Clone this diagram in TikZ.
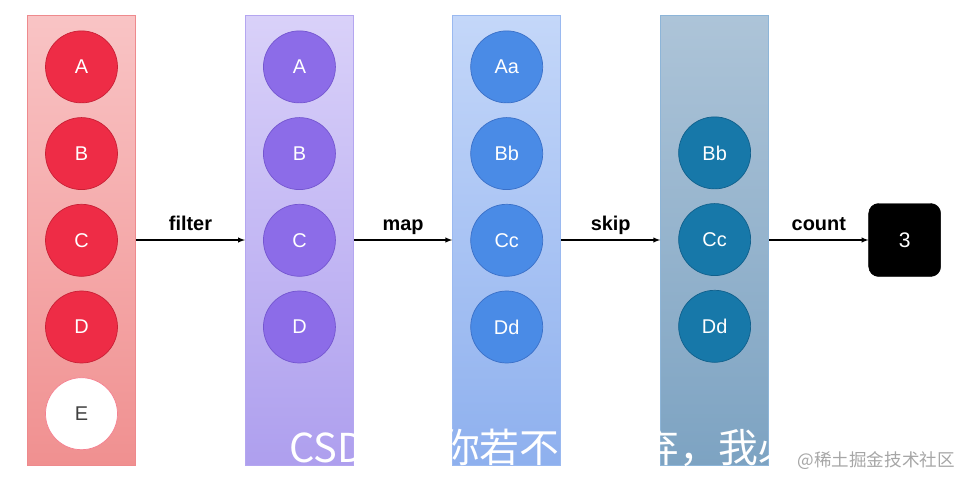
\documentclass[tikz,border=0pt]{standalone}
\usepackage{fontspec}
\setmainfont{Liberation Sans}
\newfontfamily\cjk{Noto Sans CJK SC}
\usepackage{xcolor}
\usepackage{tikz}
\usetikzlibrary{arrows.meta}
\usetikzlibrary{shapes,arrows,positioning}
\definecolor{redTop}{HTML}{F9C4C5}
\definecolor{redBot}{HTML}{F09090}
\definecolor{redLine}{HTML}{EE8A8D}
\definecolor{redElem}{HTML}{EE2C46}
\definecolor{redElemLine}{HTML}{C92035}
\definecolor{purpleTop}{HTML}{D9D1F9}
\definecolor{purpleBot}{HTML}{AE9FEE}
\definecolor{purpleLine}{HTML}{B4A6F0}
\definecolor{purpleElem}{HTML}{8C6CE8}
\definecolor{purpleElemLine}{HTML}{7456D0}
\definecolor{blueTop}{HTML}{C4D7F9}
\definecolor{blueBot}{HTML}{8EB0EE}
\definecolor{blueLine}{HTML}{9AB9F0}
\definecolor{blueElem}{HTML}{4A8BE6}
\definecolor{blueElemLine}{HTML}{3A70C8}
\definecolor{tealTop}{HTML}{ADC4D8}
\definecolor{tealBot}{HTML}{7DA3C2}
\definecolor{tealLine}{HTML}{8DB5D8}
\definecolor{tealElem}{HTML}{1778A9}
\definecolor{tealElemLine}{HTML}{10608C}
\tikzset{stream-line/.style={line width=1pt}}
\tikzset{>=latex}
\tikzset{stream-col/.style={draw, line width=0.8pt, inner sep=0, minimum width=3.24cm, minimum height=13.5cm}}
\tikzset{stream-red/.style={stream-col, draw=redLine, top color=redTop, bottom color=redBot}}
\tikzset{stream-purple/.style={stream-col, draw=purpleLine, top color=purpleTop, bottom color=purpleBot}}
\tikzset{stream-blue/.style={stream-col, draw=blueLine, top color=blueTop, bottom color=blueBot}}
\tikzset{stream-teal/.style={stream-col, draw=tealLine, top color=tealTop, bottom color=tealBot}}
\tikzset{stream-elem/.style={circle, draw, line width=0.6pt, inner sep=0, minimum size=2.16cm, text=white, font=\fontsize{17}{17}\selectfont}}
\tikzset{elem-red/.style={stream-elem, fill=redElem, draw=redElemLine}}
\tikzset{elem-white/.style={stream-elem, fill=white, draw=redElem!60, text=black!75}}
\tikzset{elem-purple/.style={stream-elem, fill=purpleElem, draw=purpleElemLine}}
\tikzset{elem-blue/.style={stream-elem, fill=blueElem, draw=blueElemLine}}
\tikzset{elem-teal/.style={stream-elem, fill=tealElem, draw=tealElemLine}}
\tikzset{stream-result/.style={draw, fill=black, text=white, rounded corners=0.3cm, inner sep=0, minimum width=2.16cm, minimum height=2.19cm, font=\fontsize{18}{18}\selectfont}}
\tikzset{op-label/.style={midway, above=0.27cm, inner sep=0, text depth=0, font=\bfseries\fontsize{17}{17}\selectfont}}

\begin{document}
\begin{tikzpicture}[]
            \useasboundingbox (0,0) rectangle (28.89,-14.34);

            \node[stream-red] (list1) at (2.445,-7.2) {};
            \node[stream-purple, right=3.27cm of list1] (list2) {};
            \node[stream-blue, right=2.95cm of list2] (list3) {};
            \node[stream-teal, right=2.97cm of list3] (list4) {};
            \node[stream-result, right=2.98cm of list4] (result) {3};

            \node[elem-red, below=0.48cm of list1.north] (a1) {A};
            \node[elem-red, below=0.42cm of a1] (b1) {B};
            \node[elem-red, below=0.42cm of b1] (c1) {C};
            \node[elem-red, below=0.42cm of c1] (d1) {D};
            \node[elem-white, below=0.42cm of d1] (e1) {E};

            \node[elem-purple, below=0.48cm of list2.north] (a2) {A};
            \node[elem-purple, below=0.42cm of a2] (b2) {B};
            \node[elem-purple, below=0.42cm of b2] (c2) {C};
            \node[elem-purple, below=0.42cm of c2] (d2) {D};

            \node[elem-blue, below=0.48cm of list3.north] (a3) {Aa};
            \node[elem-blue, below=0.42cm of a3] (b3) {Bb};
            \node[elem-blue, below=0.42cm of b3] (c3) {Cc};
            \node[elem-blue, below=0.42cm of c3] (d3) {Dd};

            \node[elem-teal, below=3.06cm of list4.north] (b4) {Bb};
            \node[elem-teal, below=0.42cm of b4] (c4) {Cc};
            \node[elem-teal, below=0.42cm of c4] (d4) {Dd};

            \draw[->, stream-line] (list1) -- (list2) node[op-label] {filter};
            \draw[->, stream-line] (list2) -- (list3) node[op-label] {map};
            \draw[->, stream-line] (list3) -- (list4) node[op-label] {skip};
            \draw[->, stream-line] (list4) -- (result) node[op-label] {count};

            \node[anchor=base west, inner sep=0, text=white, font=\cjk\fontsize{34}{34}\selectfont] (mark1) at (8.67,-13.86) {CSDN @你若不离不弃，我必};
            \node[anchor=base east, inner sep=0, text=black!35, font=\cjk\fontsize{15}{15}\selectfont] (mark2) at (28.65,-14.0) {@稀土掘金技术社区};

        \end{tikzpicture}
\end{document}
